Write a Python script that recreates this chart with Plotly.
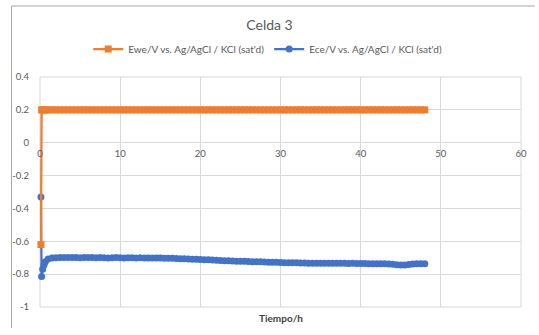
import plotly.graph_objects as go

# Measurement times (h)
TIME_H = [
    0.12, 0.2, 0.33, 0.5, 0.67,
    1.0, 1.5, 2.0, 2.5, 3.0, 3.5, 4.0, 4.5, 5.0, 5.5,
    6.0, 6.5, 7.0, 7.5, 8.0, 8.5, 9.0, 9.5, 10.0, 10.5,
    11.0, 11.5, 12.0, 12.5, 13.0, 13.5, 14.0, 14.5, 15.0, 15.5,
    16.0, 16.5, 17.0, 17.5, 18.0, 18.5, 19.0, 19.5, 20.0, 20.5,
    21.0, 21.5, 22.0, 22.5, 23.0, 23.5, 24.0, 24.5, 25.0, 25.5,
    26.0, 26.5, 27.0, 27.5, 28.0, 28.5, 29.0, 29.5, 30.0, 30.5,
    31.0, 31.5, 32.0, 32.5, 33.0, 33.5, 34.0, 34.5, 35.0, 35.5,
    36.0, 36.5, 37.0, 37.5, 38.0, 38.5, 39.0, 39.5, 40.0, 40.5,
    41.0, 41.5, 42.0, 42.5, 43.0, 43.5, 44.0, 44.5, 45.0, 45.5,
    46.0, 46.5, 47.0, 47.5, 48.0,
]

# Working electrode potential (V vs. Ag/AgCl)
EWE_V = [
    -0.62, 0.2, 0.2, 0.2, 0.2,
    0.2, 0.2, 0.2, 0.2, 0.2, 0.2, 0.2, 0.2, 0.2, 0.2,
    0.2, 0.2, 0.2, 0.2, 0.2, 0.2, 0.2, 0.2, 0.2, 0.2,
    0.2, 0.2, 0.2, 0.2, 0.2, 0.2, 0.2, 0.2, 0.2, 0.2,
    0.2, 0.2, 0.2, 0.2, 0.2, 0.2, 0.2, 0.2, 0.2, 0.2,
    0.2, 0.2, 0.2, 0.2, 0.2, 0.2, 0.2, 0.2, 0.2, 0.2,
    0.2, 0.2, 0.2, 0.2, 0.2, 0.2, 0.2, 0.2, 0.2, 0.2,
    0.2, 0.2, 0.2, 0.2, 0.2, 0.2, 0.2, 0.2, 0.2, 0.2,
    0.2, 0.2, 0.2, 0.2, 0.2, 0.2, 0.2, 0.2, 0.2, 0.2,
    0.2, 0.2, 0.2, 0.2, 0.2, 0.2, 0.2, 0.2, 0.2, 0.2,
    0.2, 0.2, 0.2, 0.2, 0.2,
]

# Counter electrode potential (V vs. Ag/AgCl)
ECE_V = [
    -0.33, -0.815, -0.77, -0.745, -0.725,
    -0.708, -0.702, -0.700, -0.699, -0.698, -0.699, -0.698, -0.699, -0.700, -0.699,
    -0.698, -0.699, -0.700, -0.699, -0.700, -0.701, -0.700, -0.699, -0.700, -0.701,
    -0.700, -0.700, -0.701, -0.700, -0.701, -0.702, -0.701, -0.702, -0.702, -0.703,
    -0.703, -0.704, -0.705, -0.706, -0.707, -0.708, -0.709, -0.710, -0.711, -0.712,
    -0.713, -0.714, -0.716, -0.717, -0.718, -0.719, -0.720, -0.721, -0.722, -0.722,
    -0.723, -0.724, -0.725, -0.725, -0.726, -0.727, -0.728, -0.728, -0.729, -0.730,
    -0.730, -0.731, -0.731, -0.732, -0.732, -0.733, -0.733, -0.734, -0.734, -0.734,
    -0.733, -0.734, -0.734, -0.733, -0.734, -0.735, -0.734, -0.735, -0.735, -0.735,
    -0.736, -0.736, -0.736, -0.737, -0.737, -0.738, -0.740, -0.743, -0.745, -0.744,
    -0.741, -0.738, -0.737, -0.737, -0.737,
]

Y_TICKS = [-1, -0.8, -0.6, -0.4, -0.2, 0, 0.2, 0.4]
Y_LABELS = ["-1", "-0.8", "-0.6", "-0.4", "-0.2", "0", "0.2", "0.4"]
X_TICKS = [0, 10, 20, 30, 40, 50, 60]
X_LABELS = ["0", "10", "20", "30", "40", "50", "60"]

W, H = 539, 335
ML, MR, MT, MB = 35, 14, 77, 28
PW, PH = W - ML - MR, H - MT - MB
Y_MIN, Y_MAX = -1, 0.4

ORANGE = "#ED7D31"
BLUE = "#4472C4"
GRID = "#d9d9d9"
TXT = "#595959"
FONT = "Lato, Liberation Sans, sans-serif"


def px_x(px):
    return (px - ML) / PW


def px_y(py):
    return (H - MB - py) / PH


fig = go.Figure()
fig.add_trace(go.Scatter(
    x=TIME_H, y=ECE_V, mode="lines+markers",
    name="Ece/V vs. Ag/AgCl / KCl (sat'd)",
    line=dict(color=BLUE, width=2.25),
    marker=dict(symbol="circle", size=7, color=BLUE),
    cliponaxis=False, legendrank=2,
))
fig.add_trace(go.Scatter(
    x=TIME_H, y=EWE_V, mode="lines+markers",
    name="Ewe/V vs. Ag/AgCl / KCl (sat'd)",
    line=dict(color=ORANGE, width=2.25),
    marker=dict(symbol="square", size=7, color=ORANGE),
    cliponaxis=False, legendrank=1,
))

# x axis crosses at y = 0
x_cross = (0 - Y_MIN) / (Y_MAX - Y_MIN)

fig.update_layout(
    width=W, height=H,
    margin=dict(l=ML, r=MR, t=MT, b=MB, pad=0),
    paper_bgcolor="white", plot_bgcolor="white",
    font=dict(family=FONT, size=9, color=TXT),
    title=dict(text="Celda 3", x=0.5, xref="container", xanchor="center",
               y=1 - 25 / H, yref="container", yanchor="middle",
               font=dict(size=14, color=TXT, family=FONT)),
    legend=dict(orientation="h", x=px_x(267), xanchor="center",
                y=px_y(49), yanchor="middle", font=dict(size=10, color=TXT),
                bgcolor="rgba(0,0,0,0)", itemwidth=30),
    xaxis=dict(range=[0, 60], tickvals=X_TICKS, ticktext=X_LABELS,
               showgrid=True, gridcolor=GRID, gridwidth=1,
               zeroline=False, showline=False, ticks="",
               anchor="free", position=x_cross, ticklabelstandoff=4,
               tickfont=dict(size=9.5, color=TXT)),
    yaxis=dict(range=[Y_MIN, Y_MAX], tickvals=Y_TICKS, ticktext=Y_LABELS,
               showgrid=True, gridcolor=GRID, gridwidth=1,
               zeroline=False, showline=False, ticks="outside",
               ticklen=8, tickcolor="rgba(0,0,0,0)",
               tickfont=dict(size=9.5, color=TXT)),
    showlegend=True,
)

# plot-area border (gridline colour)
fig.add_shape(type="rect", xref="paper", yref="paper", x0=0, x1=1, y0=0, y1=1,
              line=dict(color=GRID, width=1), layer="below")

# outer chart frame (top and left edges)
fig.add_shape(type="line", xref="paper", yref="paper",
              x0=px_x(6), x1=px_x(539), y0=px_y(6), y1=px_y(6),
              line=dict(color="#a6a6a6", width=1))
fig.add_shape(type="line", xref="paper", yref="paper",
              x0=px_x(6), x1=px_x(6), y0=px_y(6), y1=px_y(328),
              line=dict(color="#a6a6a6", width=1))

fig.add_annotation(text="<b>Tiempo/h</b>", xref="paper", yref="paper",
                   x=0.5, y=px_y(318), xanchor="center", yanchor="middle",
                   showarrow=False, font=dict(size=10, color="#404040", family=FONT))

fig.write_html("out.html")
